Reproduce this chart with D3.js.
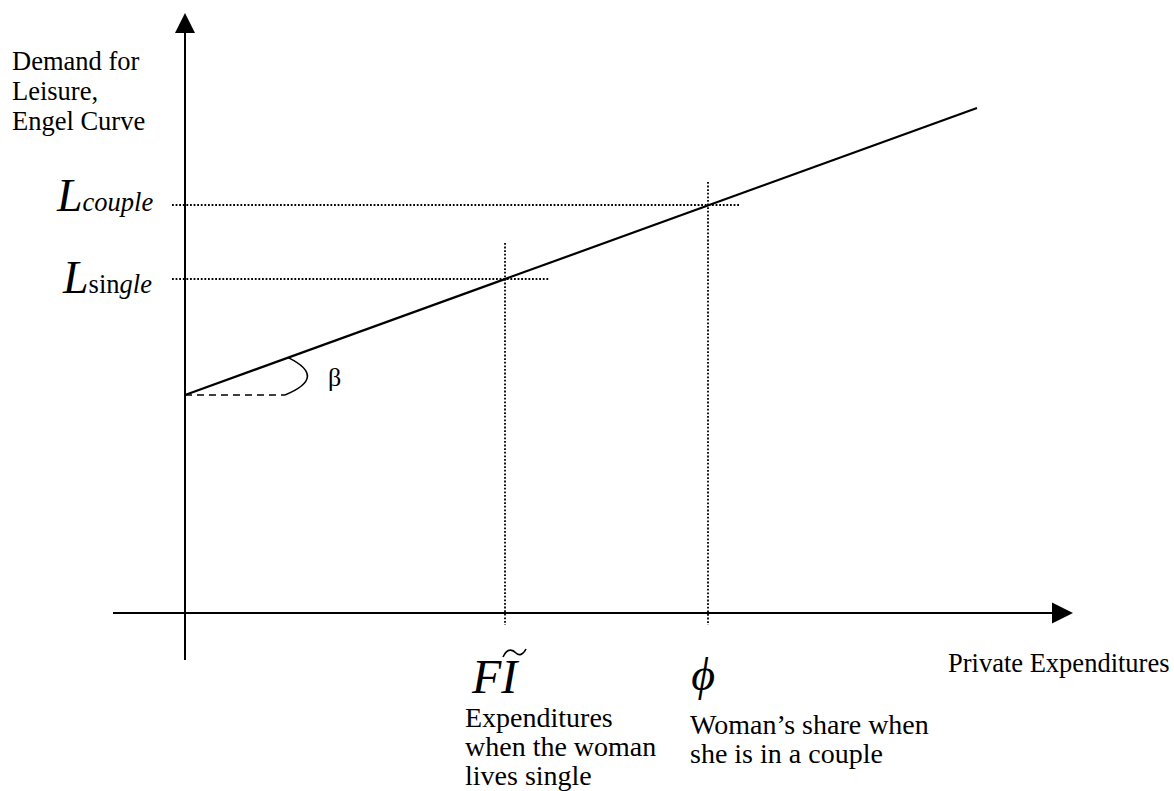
<!DOCTYPE html>
<html>
<head>
<meta charset="utf-8">
<script src="https://cdn.jsdelivr.net/npm/d3@7/dist/d3.min.js"></script>
<style>
  html, body { margin: 0; padding: 0; background: #fff; }
  svg text { font-family: "Liberation Serif", "Times New Roman", serif; fill: #000; }
</style>
</head>
<body>
<svg id="chart" width="1174" height="791"></svg>
<script>
// ---- data (conceptual units) ----
const engelX = [0, 9.9];          // Engel curve x endpoints
const engelY = [4.36, 10.1];      // Engel curve y endpoints
const markerNames = ["single", "couple"];
const markerX = [4.0, 6.54];      // F·I~ and phi positions on x
const markerLevel = [6.68, 8.15]; // L_single, L_couple
const hEnd = [4.54, 6.94];        // right end of horizontal dotted guides
const vTop = [7.4, 8.62];         // top of vertical dotted guides
const vBottom = -0.24;            // bottom of vertical dotted guides
const xAxisExtent = [-0.9, 11.1];
const yAxisExtent = [-0.94, 12.0];
const slopeRunX = 1.25;           // dashed run for beta
const yTitleLines = ["Demand for", "Leisure,", "Engel Curve"];
const xTitle = "Private Expenditures";
const fiNote = ["Expenditures", "when the woman", "lives single"];
const phiNote = ["Woman\u2019s share when", "she is in a couple"];

const svg = d3.select("#chart");
const x = d3.scaleLinear().domain([0, 10]).range([185, 985]);
const y = d3.scaleLinear().domain([0, 10]).range([613, 113]);

// axes
const x0 = x(0), y0 = y(0);
svg.append("line").attr("x1", x(xAxisExtent[0])).attr("x2", x(xAxisExtent[1]) - 18)
  .attr("y1", y0).attr("y2", y0).attr("stroke", "#000").attr("stroke-width", 2);
svg.append("path")
  .attr("d", `M${x(xAxisExtent[1])},${y0} L${x(xAxisExtent[1]) - 21},${y0 - 10.5} L${x(xAxisExtent[1]) - 21},${y0 + 10.5} Z`)
  .attr("fill", "#000");
svg.append("line").attr("x1", x0).attr("x2", x0)
  .attr("y1", y(yAxisExtent[0])).attr("y2", y(yAxisExtent[1]) + 18)
  .attr("stroke", "#000").attr("stroke-width", 2);
svg.append("path")
  .attr("d", `M${x0},${y(yAxisExtent[1])} L${x0 - 10},${y(yAxisExtent[1]) + 20} L${x0 + 10},${y(yAxisExtent[1]) + 20} Z`)
  .attr("fill", "#000");

// dotted guides
const dots = "1.8,1.8";
markerX.forEach((mx, i) => {
  svg.append("line").attr("x1", x0 - 13).attr("x2", x(hEnd[i]))
    .attr("y1", Math.round(y(markerLevel[i]))).attr("y2", Math.round(y(markerLevel[i])))
    .attr("stroke", "#000").attr("stroke-width", 1.8).attr("stroke-dasharray", dots);
  svg.append("line").attr("x1", Math.round(x(mx))).attr("x2", Math.round(x(mx)))
    .attr("y1", y(vTop[i])).attr("y2", y(vBottom))
    .attr("stroke", "#000").attr("stroke-width", 1.8).attr("stroke-dasharray", dots);
});

// Engel curve
const line = d3.line().x(d => x(d[0])).y(d => y(d[1]));
svg.append("path").datum(d3.zip(engelX, engelY)).attr("d", line)
  .attr("fill", "none").attr("stroke", "#000").attr("stroke-width", 2.2);

// beta dashed run and arc
svg.append("line").attr("x1", x(0)).attr("x2", x(slopeRunX))
  .attr("y1", y(engelY[0])).attr("y2", y(engelY[0]))
  .attr("stroke", "#000").attr("stroke-width", 1.6).attr("stroke-dasharray", "7,5");
const slope = (engelY[1] - engelY[0]) / (engelX[1] - engelX[0]);
const ax = 1.29, ay = engelY[0] + slope * ax;
svg.append("path")
  .attr("d", `M${x(ax)},${y(ay)} Q${x(ax) + 40},${(y(ay) + y(engelY[0])) / 2 + 1} ${x(slopeRunX)},${y(engelY[0])}`)
  .attr("fill", "none").attr("stroke", "#000").attr("stroke-width", 1.6);
svg.append("text").attr("x", 328).attr("y", 386).attr("font-size", 26).text("\u03B2");

// y title
yTitleLines.forEach((t, i) => {
  svg.append("text").attr("x", 12).attr("y", 70 + i * 30).attr("font-size", 26.5).text(t);
});
// x title
svg.append("text").attr("x", 948).attr("y", 672).attr("font-size", 26.5).text(xTitle);

// L couple
const lc = svg.append("text").attr("x", 57).attr("y", y(markerLevel[1]) + 5);
lc.append("tspan").attr("font-size", 46).attr("font-style", "italic").text("L");
lc.append("tspan").attr("font-size", 26.5).attr("font-style", "italic").text("couple");
// L single
const ls = svg.append("text").attr("x", 63).attr("y", y(markerLevel[0]) + 14);
ls.append("tspan").attr("font-size", 46).attr("font-style", "italic").text("L");
ls.append("tspan").attr("font-size", 26.5).attr("dx", 0).text("sin");
ls.append("tspan").attr("font-size", 26.5).attr("font-style", "italic").text("gle");

// FI~
svg.append("text").attr("x", x(markerX[0]) - 33).attr("y", 693)
  .attr("font-size", 48).attr("font-style", "italic").text("FI");
svg.append("path")
  .attr("d", "M503,657 C508,646 514,651 516,653 C519,656 523,655 526,649")
  .attr("fill", "none").attr("stroke", "#000").attr("stroke-width", 1.6);
fiNote.forEach((t, i) => {
  svg.append("text").attr("x", 465).attr("y", 727 + i * 29).attr("font-size", 28).text(t);
});

// phi
svg.append("text").attr("x", x(markerX[1]) - 17).attr("y", 690)
  .attr("font-size", 46).attr("font-style", "italic").text("\u03D5");
phiNote.forEach((t, i) => {
  svg.append("text").attr("x", 690).attr("y", 734 + i * 29).attr("font-size", 28).text(t);
});
</script>
</body>
</html>
